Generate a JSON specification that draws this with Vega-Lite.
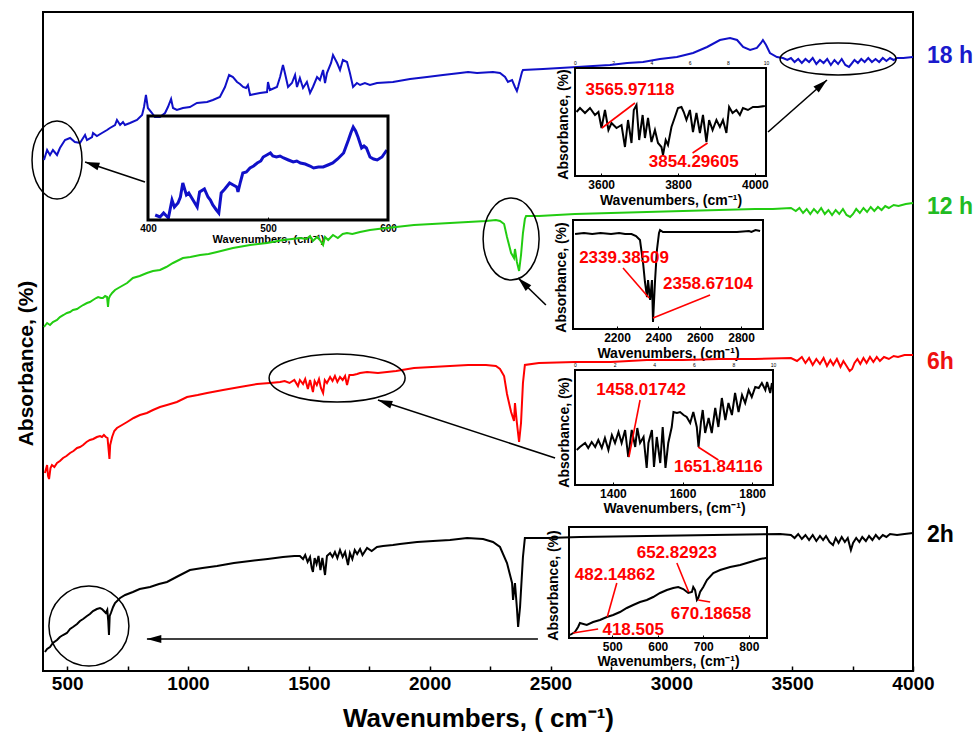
{
"$schema":"https://vega.github.io/schema/vega-lite/v6.json",
"width":870,"height":659,"autosize":"none",
"padding":{"left":43,"top":12,"right":63,"bottom":64},
"background":"white",
"config":{"view":{"stroke":"black","strokeWidth":2},"font":"Liberation Sans","axis":{"grid":false}},
"datasets":{
"s18":[{"wn":404,"a":511},{"wn":417,"a":521},{"wn":429,"a":516},{"wn":441,"a":521},{"wn":458,"a":516},{"wn":470,"a":523},{"wn":491,"a":531},{"wn":512,"a":533},{"wn":532,"a":529},{"wn":553,"a":528},{"wn":566,"a":533},{"wn":574,"a":536},{"wn":582,"a":531},{"wn":603,"a":534},{"wn":607,"a":538},{"wn":623,"a":535},{"wn":644,"a":538},{"wn":665,"a":541},{"wn":677,"a":543},{"wn":698,"a":546},{"wn":706,"a":551},{"wn":719,"a":546},{"wn":731,"a":549},{"wn":739,"a":546},{"wn":760,"a":548},{"wn":789,"a":551},{"wn":810,"a":556},{"wn":818,"a":564},{"wn":826,"a":576},{"wn":834,"a":563},{"wn":851,"a":558},{"wn":863,"a":554},{"wn":884,"a":554},{"wn":905,"a":558},{"wn":917,"a":564},{"wn":930,"a":572},{"wn":938,"a":563},{"wn":954,"a":561},{"wn":979,"a":563},{"wn":1008,"a":564},{"wn":1037,"a":568},{"wn":1079,"a":569},{"wn":1103,"a":571},{"wn":1132,"a":574},{"wn":1153,"a":584},{"wn":1170,"a":596},{"wn":1186,"a":594},{"wn":1203,"a":589},{"wn":1215,"a":587},{"wn":1228,"a":584},{"wn":1240,"a":583},{"wn":1248,"a":586},{"wn":1257,"a":576},{"wn":1277,"a":577},{"wn":1298,"a":578},{"wn":1327,"a":579},{"wn":1331,"a":589},{"wn":1339,"a":581},{"wn":1368,"a":584},{"wn":1381,"a":594},{"wn":1393,"a":606},{"wn":1401,"a":598},{"wn":1414,"a":584},{"wn":1430,"a":588},{"wn":1443,"a":596},{"wn":1451,"a":584},{"wn":1463,"a":593},{"wn":1476,"a":583},{"wn":1492,"a":589},{"wn":1505,"a":578},{"wn":1517,"a":584},{"wn":1534,"a":594},{"wn":1546,"a":591},{"wn":1559,"a":601},{"wn":1567,"a":588},{"wn":1575,"a":598},{"wn":1592,"a":608},{"wn":1600,"a":616},{"wn":1617,"a":608},{"wn":1629,"a":601},{"wn":1641,"a":611},{"wn":1658,"a":609},{"wn":1670,"a":598},{"wn":1683,"a":584},{"wn":1699,"a":588},{"wn":1712,"a":586},{"wn":1732,"a":588},{"wn":1753,"a":586},{"wn":1782,"a":588},{"wn":1848,"a":589},{"wn":1919,"a":592},{"wn":1989,"a":594},{"wn":2055,"a":596},{"wn":2126,"a":598},{"wn":2159,"a":599},{"wn":2196,"a":598},{"wn":2262,"a":599},{"wn":2291,"a":598},{"wn":2312,"a":594},{"wn":2324,"a":589},{"wn":2341,"a":591},{"wn":2353,"a":584},{"wn":2361,"a":580},{"wn":2366,"a":584},{"wn":2382,"a":599},{"wn":2386,"a":601},{"wn":2469,"a":602},{"wn":2539,"a":603},{"wn":2610,"a":604},{"wn":2676,"a":605},{"wn":2746,"a":606},{"wn":2817,"a":608},{"wn":2883,"a":609},{"wn":2953,"a":612},{"wn":3023,"a":614},{"wn":3090,"a":618},{"wn":3148,"a":624},{"wn":3201,"a":631},{"wn":3243,"a":633},{"wn":3272,"a":631},{"wn":3297,"a":624},{"wn":3326,"a":621},{"wn":3354,"a":623},{"wn":3371,"a":628},{"wn":3379,"a":631},{"wn":3392,"a":626},{"wn":3408,"a":618},{"wn":3437,"a":614},{"wn":3462,"a":613},{"wn":3480,"a":611},{"wn":3495,"a":613},{"wn":3510,"a":609},{"wn":3525,"a":612},{"wn":3540,"a":608},{"wn":3555,"a":612},{"wn":3570,"a":609},{"wn":3585,"a":613},{"wn":3600,"a":607},{"wn":3615,"a":611},{"wn":3630,"a":608},{"wn":3645,"a":612},{"wn":3660,"a":606},{"wn":3675,"a":611},{"wn":3690,"a":607},{"wn":3705,"a":612},{"wn":3720,"a":606},{"wn":3735,"a":604},{"wn":3745,"a":607},{"wn":3758,"a":611},{"wn":3772,"a":608},{"wn":3786,"a":612},{"wn":3800,"a":609},{"wn":3815,"a":613},{"wn":3830,"a":609},{"wn":3845,"a":612},{"wn":3860,"a":609},{"wn":3875,"a":613},{"wn":3890,"a":610},{"wn":3905,"a":613},{"wn":3920,"a":611},{"wn":3934,"a":613},{"wn":3960,"a":613},{"wn":4000,"a":614}],
"s12":[{"wn":404,"a":344},{"wn":417,"a":348},{"wn":429,"a":346},{"wn":441,"a":349},{"wn":458,"a":351},{"wn":470,"a":354},{"wn":485,"a":356},{"wn":499,"a":358},{"wn":512,"a":359},{"wn":524,"a":361},{"wn":541,"a":362},{"wn":553,"a":364},{"wn":566,"a":366},{"wn":582,"a":368},{"wn":594,"a":369},{"wn":607,"a":371},{"wn":620,"a":373},{"wn":628,"a":374},{"wn":640,"a":373},{"wn":648,"a":373},{"wn":657,"a":375},{"wn":665,"a":374},{"wn":669,"a":364},{"wn":672,"a":372},{"wn":677,"a":375},{"wn":686,"a":378},{"wn":698,"a":381},{"wn":719,"a":384},{"wn":748,"a":388},{"wn":772,"a":393},{"wn":800,"a":395},{"wn":830,"a":398},{"wn":855,"a":400},{"wn":884,"a":401},{"wn":910,"a":404},{"wn":938,"a":408},{"wn":979,"a":413},{"wn":1010,"a":414},{"wn":1050,"a":416},{"wn":1085,"a":417},{"wn":1120,"a":419},{"wn":1186,"a":423},{"wn":1257,"a":426},{"wn":1327,"a":428},{"wn":1393,"a":431},{"wn":1430,"a":432},{"wn":1463,"a":433},{"wn":1490,"a":432},{"wn":1505,"a":435},{"wn":1517,"a":430},{"wn":1534,"a":434},{"wn":1546,"a":431},{"wn":1559,"a":426},{"wn":1567,"a":434},{"wn":1580,"a":431},{"wn":1600,"a":436},{"wn":1620,"a":433},{"wn":1640,"a":437},{"wn":1658,"a":438},{"wn":1680,"a":437},{"wn":1712,"a":439},{"wn":1753,"a":441},{"wn":1786,"a":442},{"wn":1861,"a":444},{"wn":1935,"a":446},{"wn":2010,"a":447},{"wn":2084,"a":448},{"wn":2159,"a":449},{"wn":2233,"a":450},{"wn":2274,"a":451},{"wn":2291,"a":450},{"wn":2308,"a":447},{"wn":2320,"a":434},{"wn":2337,"a":418},{"wn":2349,"a":413},{"wn":2353,"a":422},{"wn":2361,"a":409},{"wn":2370,"a":400},{"wn":2378,"a":416},{"wn":2386,"a":438},{"wn":2394,"a":452},{"wn":2399,"a":455},{"wn":2452,"a":455},{"wn":2601,"a":457},{"wn":2750,"a":458},{"wn":2899,"a":459},{"wn":3048,"a":460},{"wn":3197,"a":461},{"wn":3346,"a":462},{"wn":3420,"a":462},{"wn":3495,"a":463},{"wn":3515,"a":460},{"wn":3530,"a":463},{"wn":3545,"a":458},{"wn":3560,"a":462},{"wn":3575,"a":457},{"wn":3590,"a":462},{"wn":3605,"a":458},{"wn":3620,"a":463},{"wn":3635,"a":457},{"wn":3650,"a":461},{"wn":3665,"a":456},{"wn":3680,"a":461},{"wn":3695,"a":457},{"wn":3710,"a":462},{"wn":3725,"a":456},{"wn":3740,"a":454},{"wn":3752,"a":457},{"wn":3765,"a":462},{"wn":3780,"a":458},{"wn":3795,"a":463},{"wn":3810,"a":459},{"wn":3825,"a":464},{"wn":3840,"a":460},{"wn":3855,"a":464},{"wn":3870,"a":461},{"wn":3885,"a":465},{"wn":3900,"a":463},{"wn":3920,"a":466},{"wn":3940,"a":465},{"wn":3970,"a":467},{"wn":4000,"a":468}],
"s6":[{"wn":408,"a":198},{"wn":417,"a":206},{"wn":421,"a":195},{"wn":425,"a":192},{"wn":431,"a":203},{"wn":437,"a":206},{"wn":447,"a":204},{"wn":458,"a":208},{"wn":470,"a":210},{"wn":483,"a":213},{"wn":497,"a":215},{"wn":512,"a":218},{"wn":526,"a":220},{"wn":541,"a":223},{"wn":553,"a":224},{"wn":566,"a":226},{"wn":580,"a":229},{"wn":594,"a":231},{"wn":608,"a":232},{"wn":623,"a":234},{"wn":636,"a":235},{"wn":644,"a":234},{"wn":652,"a":236},{"wn":660,"a":234},{"wn":667,"a":233},{"wn":672,"a":220},{"wn":675,"a":212},{"wn":678,"a":226},{"wn":686,"a":234},{"wn":695,"a":240},{"wn":706,"a":243},{"wn":727,"a":246},{"wn":748,"a":249},{"wn":775,"a":253},{"wn":801,"a":256},{"wn":830,"a":258},{"wn":855,"a":261},{"wn":884,"a":264},{"wn":913,"a":266},{"wn":954,"a":269},{"wn":996,"a":274},{"wn":1040,"a":276},{"wn":1079,"a":278},{"wn":1145,"a":281},{"wn":1215,"a":284},{"wn":1286,"a":287},{"wn":1339,"a":288},{"wn":1381,"a":289},{"wn":1400,"a":290},{"wn":1420,"a":288},{"wn":1440,"a":291},{"wn":1455,"a":285},{"wn":1463,"a":291},{"wn":1476,"a":287},{"wn":1485,"a":292},{"wn":1496,"a":282},{"wn":1505,"a":291},{"wn":1512,"a":284},{"wn":1517,"a":279},{"wn":1524,"a":290},{"wn":1533,"a":286},{"wn":1542,"a":292},{"wn":1550,"a":283},{"wn":1559,"a":278},{"wn":1566,"a":291},{"wn":1575,"a":288},{"wn":1588,"a":294},{"wn":1598,"a":290},{"wn":1608,"a":295},{"wn":1618,"a":289},{"wn":1629,"a":294},{"wn":1640,"a":291},{"wn":1650,"a":295},{"wn":1658,"a":286},{"wn":1668,"a":296},{"wn":1683,"a":296},{"wn":1700,"a":297},{"wn":1712,"a":298},{"wn":1741,"a":299},{"wn":1786,"a":298},{"wn":1861,"a":300},{"wn":1935,"a":303},{"wn":2010,"a":304},{"wn":2084,"a":305},{"wn":2159,"a":306},{"wn":2233,"a":306},{"wn":2274,"a":305},{"wn":2291,"a":302},{"wn":2308,"a":295},{"wn":2320,"a":277},{"wn":2337,"a":259},{"wn":2349,"a":250},{"wn":2353,"a":268},{"wn":2361,"a":248},{"wn":2370,"a":229},{"wn":2378,"a":248},{"wn":2386,"a":288},{"wn":2394,"a":306},{"wn":2452,"a":308},{"wn":2601,"a":309},{"wn":2750,"a":309},{"wn":2899,"a":311},{"wn":3048,"a":311},{"wn":3197,"a":312},{"wn":3346,"a":312},{"wn":3495,"a":313},{"wn":3520,"a":310},{"wn":3540,"a":314},{"wn":3555,"a":308},{"wn":3570,"a":313},{"wn":3585,"a":306},{"wn":3600,"a":312},{"wn":3615,"a":307},{"wn":3630,"a":313},{"wn":3644,"a":305},{"wn":3658,"a":311},{"wn":3670,"a":306},{"wn":3685,"a":312},{"wn":3700,"a":304},{"wn":3712,"a":310},{"wn":3725,"a":305},{"wn":3738,"a":300},{"wn":3748,"a":302},{"wn":3758,"a":308},{"wn":3770,"a":312},{"wn":3782,"a":307},{"wn":3795,"a":313},{"wn":3808,"a":308},{"wn":3822,"a":314},{"wn":3836,"a":309},{"wn":3850,"a":314},{"wn":3863,"a":310},{"wn":3880,"a":314},{"wn":3900,"a":312},{"wn":3920,"a":315},{"wn":3938,"a":314},{"wn":3965,"a":316},{"wn":4000,"a":316}],
"s2":[{"wn":408,"a":19},{"wn":417,"a":22},{"wn":429,"a":24},{"wn":441,"a":28},{"wn":458,"a":31},{"wn":470,"a":34},{"wn":483,"a":36},{"wn":499,"a":38},{"wn":512,"a":42},{"wn":524,"a":44},{"wn":541,"a":47},{"wn":553,"a":50},{"wn":566,"a":52},{"wn":582,"a":55},{"wn":594,"a":57},{"wn":607,"a":60},{"wn":623,"a":62},{"wn":636,"a":63},{"wn":644,"a":62},{"wn":652,"a":60},{"wn":660,"a":58},{"wn":666,"a":61},{"wn":670,"a":50},{"wn":673,"a":36},{"wn":676,"a":55},{"wn":681,"a":58},{"wn":690,"a":64},{"wn":698,"a":68},{"wn":719,"a":73},{"wn":740,"a":76},{"wn":772,"a":79},{"wn":800,"a":82},{"wn":843,"a":84},{"wn":880,"a":87},{"wn":913,"a":89},{"wn":960,"a":95},{"wn":1008,"a":101},{"wn":1060,"a":103},{"wn":1120,"a":105},{"wn":1190,"a":108},{"wn":1257,"a":110},{"wn":1330,"a":112},{"wn":1393,"a":114},{"wn":1440,"a":115},{"wn":1463,"a":115},{"wn":1476,"a":112},{"wn":1485,"a":116},{"wn":1495,"a":109},{"wn":1505,"a":114},{"wn":1512,"a":103},{"wn":1517,"a":99},{"wn":1524,"a":113},{"wn":1532,"a":107},{"wn":1540,"a":115},{"wn":1548,"a":101},{"wn":1556,"a":113},{"wn":1567,"a":96},{"wn":1575,"a":115},{"wn":1588,"a":118},{"wn":1598,"a":114},{"wn":1608,"a":119},{"wn":1618,"a":113},{"wn":1629,"a":121},{"wn":1640,"a":114},{"wn":1650,"a":119},{"wn":1662,"a":106},{"wn":1670,"a":118},{"wn":1680,"a":112},{"wn":1690,"a":121},{"wn":1700,"a":117},{"wn":1712,"a":122},{"wn":1722,"a":116},{"wn":1741,"a":123},{"wn":1760,"a":120},{"wn":1782,"a":124},{"wn":1807,"a":125},{"wn":1848,"a":126},{"wn":1877,"a":127},{"wn":1948,"a":129},{"wn":2014,"a":130},{"wn":2084,"a":131},{"wn":2155,"a":133},{"wn":2221,"a":132},{"wn":2262,"a":129},{"wn":2291,"a":124},{"wn":2320,"a":108},{"wn":2341,"a":88},{"wn":2345,"a":71},{"wn":2353,"a":88},{"wn":2361,"a":63},{"wn":2366,"a":44},{"wn":2374,"a":64},{"wn":2386,"a":114},{"wn":2394,"a":133},{"wn":2486,"a":133},{"wn":2622,"a":134},{"wn":2899,"a":135},{"wn":3172,"a":136},{"wn":3450,"a":137},{"wn":3495,"a":136},{"wn":3510,"a":133},{"wn":3525,"a":137},{"wn":3540,"a":132},{"wn":3555,"a":136},{"wn":3570,"a":131},{"wn":3585,"a":136},{"wn":3600,"a":130},{"wn":3615,"a":135},{"wn":3628,"a":131},{"wn":3640,"a":135},{"wn":3655,"a":129},{"wn":3669,"a":126},{"wn":3680,"a":133},{"wn":3692,"a":128},{"wn":3705,"a":134},{"wn":3718,"a":129},{"wn":3730,"a":133},{"wn":3743,"a":121},{"wn":3752,"a":128},{"wn":3765,"a":133},{"wn":3778,"a":129},{"wn":3790,"a":134},{"wn":3805,"a":130},{"wn":3818,"a":135},{"wn":3832,"a":131},{"wn":3846,"a":136},{"wn":3860,"a":132},{"wn":3875,"a":136},{"wn":3890,"a":134},{"wn":3905,"a":137},{"wn":3934,"a":136},{"wn":3965,"a":137},{"wn":4000,"a":138}],
"in1":[{"wn":406,"a":5},{"wn":410,"a":3},{"wn":413,"a":7},{"wn":417,"a":2},{"wn":420,"a":20},{"wn":422,"a":13},{"wn":425,"a":17},{"wn":427,"a":23},{"wn":429,"a":37},{"wn":432,"a":25},{"wn":434,"a":27},{"wn":436,"a":23},{"wn":438,"a":19},{"wn":441,"a":13},{"wn":443,"a":28},{"wn":447,"a":31},{"wn":450,"a":23},{"wn":452,"a":20},{"wn":454,"a":15},{"wn":457,"a":10},{"wn":459,"a":7},{"wn":461,"a":27},{"wn":464,"a":31},{"wn":468,"a":37},{"wn":471,"a":35},{"wn":474,"a":33},{"wn":475,"a":28},{"wn":477,"a":38},{"wn":479,"a":47},{"wn":482,"a":48},{"wn":485,"a":52},{"wn":488,"a":54},{"wn":491,"a":57},{"wn":494,"a":59},{"wn":496,"a":63},{"wn":499,"a":65},{"wn":502,"a":67},{"wn":504,"a":64},{"wn":507,"a":63},{"wn":510,"a":64},{"wn":513,"a":62},{"wn":517,"a":60},{"wn":521,"a":58},{"wn":524,"a":59},{"wn":527,"a":57},{"wn":531,"a":56},{"wn":535,"a":54},{"wn":538,"a":52},{"wn":542,"a":53},{"wn":546,"a":53},{"wn":550,"a":55},{"wn":554,"a":57},{"wn":558,"a":61},{"wn":563,"a":67},{"wn":567,"a":80},{"wn":569,"a":87},{"wn":571,"a":93},{"wn":573,"a":89},{"wn":575,"a":83},{"wn":578,"a":72},{"wn":580,"a":74},{"wn":582,"a":72},{"wn":585,"a":63},{"wn":588,"a":61},{"wn":591,"a":60},{"wn":595,"a":63},{"wn":599,"a":70}],
"in2":[{"wn":3536,"a":64},{"wn":3545,"a":68},{"wn":3558,"a":63},{"wn":3571,"a":68},{"wn":3584,"a":61},{"wn":3593,"a":64},{"wn":3601,"a":48},{"wn":3610,"a":66},{"wn":3619,"a":46},{"wn":3627,"a":53},{"wn":3640,"a":48},{"wn":3653,"a":51},{"wn":3662,"a":29},{"wn":3670,"a":56},{"wn":3679,"a":33},{"wn":3685,"a":66},{"wn":3692,"a":71},{"wn":3699,"a":36},{"wn":3708,"a":61},{"wn":3714,"a":38},{"wn":3722,"a":58},{"wn":3731,"a":34},{"wn":3740,"a":46},{"wn":3748,"a":33},{"wn":3757,"a":29},{"wn":3761,"a":21},{"wn":3768,"a":36},{"wn":3774,"a":31},{"wn":3783,"a":49},{"wn":3792,"a":59},{"wn":3800,"a":68},{"wn":3809,"a":69},{"wn":3815,"a":64},{"wn":3822,"a":56},{"wn":3831,"a":66},{"wn":3839,"a":44},{"wn":3848,"a":63},{"wn":3857,"a":43},{"wn":3865,"a":61},{"wn":3874,"a":34},{"wn":3881,"a":56},{"wn":3890,"a":46},{"wn":3900,"a":56},{"wn":3909,"a":49},{"wn":3917,"a":56},{"wn":3926,"a":43},{"wn":3933,"a":69},{"wn":3942,"a":63},{"wn":3952,"a":66},{"wn":3961,"a":61},{"wn":3969,"a":68},{"wn":3982,"a":66},{"wn":3995,"a":69},{"wn":4008,"a":69},{"wn":4026,"a":70}],
"in3":[{"wn":1997,"a":95},{"wn":2040,"a":96},{"wn":2080,"a":95},{"wn":2120,"a":96},{"wn":2171,"a":95},{"wn":2210,"a":96},{"wn":2239,"a":95},{"wn":2270,"a":95},{"wn":2292,"a":93},{"wn":2311,"a":89},{"wn":2326,"a":66},{"wn":2335,"a":47},{"wn":2345,"a":32},{"wn":2350,"a":49},{"wn":2360,"a":29},{"wn":2369,"a":49},{"wn":2374,"a":7},{"wn":2384,"a":49},{"wn":2393,"a":79},{"wn":2403,"a":96},{"wn":2408,"a":99},{"wn":2422,"a":97},{"wn":2500,"a":97},{"wn":2601,"a":97},{"wn":2693,"a":97},{"wn":2780,"a":97},{"wn":2838,"a":98},{"wn":2850,"a":97},{"wn":2870,"a":99},{"wn":2892,"a":98}],
"in4":[{"wn":1296,"a":35},{"wn":1305,"a":38},{"wn":1320,"a":42},{"wn":1329,"a":37},{"wn":1339,"a":43},{"wn":1349,"a":38},{"wn":1358,"a":45},{"wn":1368,"a":37},{"wn":1377,"a":47},{"wn":1387,"a":35},{"wn":1397,"a":50},{"wn":1406,"a":42},{"wn":1416,"a":53},{"wn":1425,"a":42},{"wn":1435,"a":55},{"wn":1444,"a":28},{"wn":1454,"a":55},{"wn":1464,"a":38},{"wn":1470,"a":57},{"wn":1478,"a":42},{"wn":1488,"a":48},{"wn":1497,"a":17},{"wn":1502,"a":42},{"wn":1512,"a":55},{"wn":1518,"a":18},{"wn":1526,"a":48},{"wn":1536,"a":22},{"wn":1543,"a":58},{"wn":1551,"a":17},{"wn":1559,"a":42},{"wn":1569,"a":58},{"wn":1574,"a":73},{"wn":1584,"a":72},{"wn":1593,"a":73},{"wn":1603,"a":70},{"wn":1612,"a":68},{"wn":1622,"a":62},{"wn":1631,"a":73},{"wn":1641,"a":58},{"wn":1646,"a":38},{"wn":1653,"a":63},{"wn":1658,"a":75},{"wn":1665,"a":52},{"wn":1675,"a":67},{"wn":1684,"a":52},{"wn":1694,"a":77},{"wn":1703,"a":58},{"wn":1713,"a":87},{"wn":1723,"a":65},{"wn":1732,"a":82},{"wn":1742,"a":70},{"wn":1751,"a":92},{"wn":1761,"a":73},{"wn":1771,"a":90},{"wn":1780,"a":82},{"wn":1790,"a":95},{"wn":1799,"a":88},{"wn":1809,"a":98},{"wn":1819,"a":97},{"wn":1828,"a":102},{"wn":1838,"a":95},{"wn":1843,"a":103},{"wn":1852,"a":92},{"wn":1857,"a":102}],
"in5":[{"wn":407,"a":3},{"wn":418,"a":6},{"wn":425,"a":11},{"wn":429,"a":15},{"wn":444,"a":13},{"wn":458,"a":16},{"wn":473,"a":18},{"wn":488,"a":21},{"wn":502,"a":23},{"wn":517,"a":26},{"wn":532,"a":30},{"wn":546,"a":33},{"wn":561,"a":36},{"wn":576,"a":38},{"wn":590,"a":41},{"wn":605,"a":45},{"wn":620,"a":48},{"wn":634,"a":50},{"wn":645,"a":51},{"wn":656,"a":49},{"wn":667,"a":45},{"wn":675,"a":46},{"wn":678,"a":51},{"wn":682,"a":48},{"wn":686,"a":38},{"wn":689,"a":40},{"wn":693,"a":46},{"wn":700,"a":51},{"wn":708,"a":58},{"wn":722,"a":65},{"wn":737,"a":68},{"wn":759,"a":71},{"wn":781,"a":73},{"wn":803,"a":76},{"wn":825,"a":79},{"wn":838,"a":80}],
"notes":[{"g":2,"t":"3565.97118","tx":3675,"ty":86,"x1":3602,"y1":48,"x2":3688,"y2":73},{"g":2,"t":"3854.29605","tx":3841,"ty":14,"x1":3838,"y1":23,"x2":3877,"y2":33},{"g":3,"t":"2339.38509","tx":2234,"ty":71,"x1":2229,"y1":61,"x2":2355,"y2":31},{"g":3,"t":"2358.67104","tx":2640,"ty":45,"x1":2650,"y1":34,"x2":2374,"y2":11},{"g":4,"t":"1458.01742","tx":1481,"ty":95,"x1":1478,"y1":85,"x2":1446,"y2":28},{"g":4,"t":"1651.84116","tx":1703,"ty":18,"x1":1645,"y1":38,"x2":1703,"y2":25},{"g":5,"t":"652.82923","tx":642,"ty":85,"x1":642,"y1":75,"x2":668,"y2":46},{"g":5,"t":"482.14862","tx":506,"ty":63,"x1":510,"y1":55,"x2":489,"y2":21},{"g":5,"t":"670.18658","tx":717,"ty":24,"x1":689,"y1":38,"x2":715,"y2":36},{"g":5,"t":"418.505","tx":546,"ty":8,"x1":414,"y1":5,"x2":469,"y2":9}],
"arrows":[{"x1":822,"y1":489,"x2":574,"y2":509},{"x1":3400,"y1":539,"x2":3644,"y2":591},{"x1":2481,"y1":366,"x2":2366,"y2":393},{"x1":2519,"y1":213,"x2":1786,"y2":271},{"x1":2448,"y1":32,"x2":830,"y2":32}],
"tags":[{"t":"18 h","a":615},{"t":"12 h","a":464},{"t":"6h","a":309},{"t":"2h","a":136}]
},
"layer":[
 {"data":{"name":"s2"},"mark":{"type":"line","color":"black","strokeWidth":2},
  "encoding":{
   "x":{"field":"wn","type":"quantitative","scale":{"domain":[400,4000],"nice":false,"zero":false},
     "axis":{"orient":"bottom","values":[500,750,1000,1250,1500,1750,2000,2250,2500,2750,3000,3250,3500,3750,4000],"format":"d","labelExpr":"datum.value % 500 === 0 ? datum.label : ''","labelFontSize":19,"labelFontWeight":"bold","labelColor":"black","labelFlush":false,"labelPadding":8,"tickSize":-5,"tickColor":"black","tickWidth":1.5,"domain":false,"title":"Wavenumbers, ( cm⁻¹)","titleFontSize":26,"titleFontWeight":"bold","titleColor":"black","titleY":47,"titleBaseline":"middle"}},
   "y":{"field":"a","type":"quantitative","scale":{"domain":[0,659],"nice":false,"zero":false},
     "axis":{"orient":"left","labels":false,"ticks":false,"domain":false,"title":"Absorbance, (%)","titleFontSize":21,"titleFontWeight":"bold","titleColor":"black","titleX":-17,"titleY":351,"titleAngle":-90,"titleBaseline":"middle","titleAlign":"center"}}}},
 {"data":{"name":"s6"},"mark":{"type":"line","color":"#ff0000","strokeWidth":2},"encoding":{"x":{"field":"wn","type":"quantitative","scale":{"domain":[400,4000],"nice":false,"zero":false},"axis":null},"y":{"field":"a","type":"quantitative","scale":{"domain":[0,659],"nice":false,"zero":false},"axis":null}}},
 {"data":{"name":"s12"},"mark":{"type":"line","color":"#22cc11","strokeWidth":2},"encoding":{"x":{"field":"wn","type":"quantitative","scale":{"domain":[400,4000],"nice":false,"zero":false},"axis":null},"y":{"field":"a","type":"quantitative","scale":{"domain":[0,659],"nice":false,"zero":false},"axis":null}}},
 {"data":{"name":"s18"},"mark":{"type":"line","color":"#1010c8","strokeWidth":2},"encoding":{"x":{"field":"wn","type":"quantitative","scale":{"domain":[400,4000],"nice":false,"zero":false},"axis":null},"y":{"field":"a","type":"quantitative","scale":{"domain":[0,659],"nice":false,"zero":false},"axis":null}}},
 {"data":{"values":[{}]},"mark":{"type":"point","shape":"M-0.641,0A0.641,1 0 1,0 0.641,0A0.641,1 0 1,0 -0.641,0","size":6084,"filled":false,"stroke":"black","strokeWidth":1.5,"opacity":1},"encoding":{"x":{"datum":458,"type":"quantitative","scale":{"domain":[400,4000],"nice":false,"zero":false},"axis":null},"y":{"datum":511,"type":"quantitative","scale":{"domain":[0,659],"nice":false,"zero":false},"axis":null}}},
 {"data":{"values":[{}]},"mark":{"type":"point","shape":"M-1,0A1,0.276 0 1,0 1,0A1,0.276 0 1,0 -1,0","size":13456,"filled":false,"stroke":"black","strokeWidth":1.5,"opacity":1},"encoding":{"x":{"datum":3690,"type":"quantitative","scale":{"domain":[400,4000],"nice":false,"zero":false},"axis":null},"y":{"datum":612,"type":"quantitative","scale":{"domain":[0,659],"nice":false,"zero":false},"axis":null}}},
 {"data":{"values":[{}]},"mark":{"type":"point","shape":"M-0.683,0A0.683,1 0 1,0 0.683,0A0.683,1 0 1,0 -0.683,0","size":6724,"filled":false,"stroke":"black","strokeWidth":1.5,"opacity":1},"encoding":{"x":{"datum":2337,"type":"quantitative","scale":{"domain":[400,4000],"nice":false,"zero":false},"axis":null},"y":{"datum":432,"type":"quantitative","scale":{"domain":[0,659],"nice":false,"zero":false},"axis":null}}},
 {"data":{"values":[{}]},"mark":{"type":"point","shape":"M-1,0A1,0.353 0 1,0 1,0A1,0.353 0 1,0 -1,0","size":18496,"filled":false,"stroke":"black","strokeWidth":1.5,"opacity":1},"encoding":{"x":{"datum":1617,"type":"quantitative","scale":{"domain":[400,4000],"nice":false,"zero":false},"axis":null},"y":{"datum":293,"type":"quantitative","scale":{"domain":[0,659],"nice":false,"zero":false},"axis":null}}},
 {"data":{"values":[{}]},"mark":{"type":"point","shape":"M-1,0A1,1 0 1,0 1,0A1,1 0 1,0 -1,0","size":6400,"filled":false,"stroke":"black","strokeWidth":1.5,"opacity":1},"encoding":{"x":{"datum":590,"type":"quantitative","scale":{"domain":[400,4000],"nice":false,"zero":false},"axis":null},"y":{"datum":45,"type":"quantitative","scale":{"domain":[0,659],"nice":false,"zero":false},"axis":null}}},
 {"data":{"name":"arrows"},"mark":{"type":"rule","color":"black","strokeWidth":1.6},"encoding":{"x":{"field":"x1","type":"quantitative","scale":{"domain":[400,4000],"nice":false,"zero":false},"axis":null},"y":{"field":"y1","type":"quantitative","scale":{"domain":[0,659],"nice":false,"zero":false},"axis":null},"x2":{"field":"x2"},"y2":{"field":"y2"}}},
 {"data":{"values":[{}]},"mark":{"type":"point","shape":"M0,0L-0.5,1.8L0.5,1.8Z","size":256,"filled":true,"color":"black","opacity":1,"angle":288},"encoding":{"x":{"datum":574,"type":"quantitative","scale":{"domain":[400,4000],"nice":false,"zero":false},"axis":null},"y":{"datum":509,"type":"quantitative","scale":{"domain":[0,659],"nice":false,"zero":false},"axis":null}}},
 {"data":{"values":[{}]},"mark":{"type":"point","shape":"M0,0L-0.5,1.8L0.5,1.8Z","size":256,"filled":true,"color":"black","opacity":1,"angle":49},"encoding":{"x":{"datum":3644,"type":"quantitative","scale":{"domain":[400,4000],"nice":false,"zero":false},"axis":null},"y":{"datum":591,"type":"quantitative","scale":{"domain":[0,659],"nice":false,"zero":false},"axis":null}}},
 {"data":{"values":[{}]},"mark":{"type":"point","shape":"M0,0L-0.5,1.8L0.5,1.8Z","size":256,"filled":true,"color":"black","opacity":1,"angle":314},"encoding":{"x":{"datum":2366,"type":"quantitative","scale":{"domain":[400,4000],"nice":false,"zero":false},"axis":null},"y":{"datum":393,"type":"quantitative","scale":{"domain":[0,659],"nice":false,"zero":false},"axis":null}}},
 {"data":{"values":[{}]},"mark":{"type":"point","shape":"M0,0L-0.5,1.8L0.5,1.8Z","size":256,"filled":true,"color":"black","opacity":1,"angle":289},"encoding":{"x":{"datum":1786,"type":"quantitative","scale":{"domain":[400,4000],"nice":false,"zero":false},"axis":null},"y":{"datum":271,"type":"quantitative","scale":{"domain":[0,659],"nice":false,"zero":false},"axis":null}}},
 {"data":{"values":[{}]},"mark":{"type":"point","shape":"M0,0L-0.5,1.8L0.5,1.8Z","size":256,"filled":true,"color":"black","opacity":1,"angle":270},"encoding":{"x":{"datum":830,"type":"quantitative","scale":{"domain":[400,4000],"nice":false,"zero":false},"axis":null},"y":{"datum":32,"type":"quantitative","scale":{"domain":[0,659],"nice":false,"zero":false},"axis":null}}},
 {"data":{"name":"tags"},"mark":{"type":"text","align":"left","baseline":"middle","dx":14,"fontSize":23,"fontWeight":"bold"},"encoding":{"x":{"datum":4000,"type":"quantitative","scale":{"domain":[400,4000],"nice":false,"zero":false},"axis":null},"y":{"field":"a","type":"quantitative","scale":{"domain":[0,659],"nice":false,"zero":false},"axis":null},"text":{"field":"t"},"color":{"field":"t","type":"nominal","scale":{"domain":["18 h","12 h","6h","2h"],"range":["#1a1acc","#22bb22","#ee1111","#000000"]},"legend":null}}},

 {"data":{"name":"in1"},"mark":{"type":"line","color":"#1010c8","strokeWidth":3},
  "encoding":{
   "x":{"field":"wn","type":"quantitative","scale":{"domain":[400,600],"range":[105,345],"nice":false,"zero":false},
     "axis":{"orient":"bottom","offset":-451,"values":[400,500,600],"format":"d","labelFontSize":10,"labelFontWeight":"bold","labelColor":"black","labelFlush":false,"labelPadding":6,"tickSize":-3,"tickColor":"black","domain":false,"title":"Wavenumbers, (cm⁻¹)","titleFontSize":11,"titleFontWeight":"bold","titleColor":"black","titlePadding":0}},
   "y":{"field":"a","type":"quantitative","scale":{"domain":[0,104],"range":[208,104],"nice":false,"zero":false},"axis":null}}},
 {"data":{"values":[{}]},"mark":{"type":"rect","filled":false,"stroke":"black","strokeWidth":3},"encoding":{"x":{"datum":400,"type":"quantitative","scale":{"domain":[400,600],"range":[105,345],"nice":false,"zero":false},"axis":null},"x2":{"datum":600},"y":{"datum":0,"type":"quantitative","scale":{"domain":[0,104],"range":[208,104],"nice":false,"zero":false},"axis":null},"y2":{"datum":104}}},

 {"data":{"name":"in2"},"mark":{"type":"line","color":"black","strokeWidth":2},
  "encoding":{
   "x":{"field":"wn","type":"quantitative","scale":{"domain":[3532,4029],"range":[532,723],"nice":false,"zero":false},
     "axis":{"orient":"bottom","offset":-495,"values":[3600,3800,4000],"format":"d","labelFontSize":12,"labelFontWeight":"bold","labelColor":"black","labelFlush":false,"labelPadding":6,"tickSize":-3,"tickColor":"black","domain":false,"title":"Wavenumbers,  (cm⁻¹)","titleFontSize":14,"titleFontWeight":"bold","titleColor":"black","titlePadding":3}},
   "y":{"field":"a","type":"quantitative","scale":{"domain":[0,108],"range":[164,56],"nice":false,"zero":false},
     "axis":{"orient":"left","labels":false,"ticks":false,"domain":false,"title":"Absorbance, (%)","titleFontSize":14,"titleFontWeight":"bold","titleColor":"black","titleX":520,"titleY":112,"titleAngle":-90,"titleBaseline":"middle","titleAlign":"center"}}}},
 {"data":{"values":[{}]},"mark":{"type":"rect","filled":false,"stroke":"black","strokeWidth":2},"encoding":{"x":{"datum":0,"type":"quantitative","scale":{"domain":[0,10],"range":[532,723],"nice":false,"zero":false},"axis":{"orient":"top","offset":-56,"values":[0,2,4,6,8,10],"labelFontSize":5,"labelColor":"black","labelFlush":false,"labelPadding":3,"ticks":false,"domain":false,"title":null}},"x2":{"datum":10},"y":{"datum":0,"type":"quantitative","scale":{"domain":[0,108],"range":[164,56],"nice":false,"zero":false},"axis":null},"y2":{"datum":108}}},
 {"data":{"name":"notes"},"transform":[{"filter":"datum.g === 2"}],"mark":{"type":"rule","color":"red","strokeWidth":1.6},"encoding":{"x":{"field":"x1","type":"quantitative","scale":{"domain":[3532,4029],"range":[532,723],"nice":false,"zero":false},"axis":null},"y":{"field":"y1","type":"quantitative","scale":{"domain":[0,108],"range":[164,56],"nice":false,"zero":false},"axis":null},"x2":{"field":"x2"},"y2":{"field":"y2"}}},
 {"data":{"name":"notes"},"transform":[{"filter":"datum.g === 2"}],"mark":{"type":"text","color":"red","fontSize":17,"fontWeight":"bold","align":"center","baseline":"middle"},"encoding":{"x":{"field":"tx","type":"quantitative","scale":{"domain":[3532,4029],"range":[532,723],"nice":false,"zero":false},"axis":null},"y":{"field":"ty","type":"quantitative","scale":{"domain":[0,108],"range":[164,56],"nice":false,"zero":false},"axis":null},"text":{"field":"t"}}},

 {"data":{"name":"in3"},"mark":{"type":"line","color":"black","strokeWidth":2},
  "encoding":{
   "x":{"field":"wn","type":"quantitative","scale":{"domain":[1987,2906],"range":[530,720],"nice":false,"zero":false},
     "axis":{"orient":"bottom","offset":-342,"values":[2200,2400,2600,2800],"format":"d","labelFontSize":12,"labelFontWeight":"bold","labelColor":"black","labelFlush":false,"labelPadding":6,"tickSize":-3,"tickColor":"black","domain":false,"title":"Wavenumbers, (cm⁻¹)","titleFontSize":14,"titleFontWeight":"bold","titleColor":"black","titlePadding":3}},
   "y":{"field":"a","type":"quantitative","scale":{"domain":[0,109],"range":[317,208],"nice":false,"zero":false},
     "axis":{"orient":"left","labels":false,"ticks":false,"domain":false,"title":"Absorbance, (%)","titleFontSize":14,"titleFontWeight":"bold","titleColor":"black","titleX":518,"titleY":265,"titleAngle":-90,"titleBaseline":"middle","titleAlign":"center"}}}},
 {"data":{"values":[{}]},"mark":{"type":"rect","filled":false,"stroke":"black","strokeWidth":2},"encoding":{"x":{"datum":1987,"type":"quantitative","scale":{"domain":[1987,2906],"range":[530,720],"nice":false,"zero":false},"axis":null},"x2":{"datum":2906},"y":{"datum":0,"type":"quantitative","scale":{"domain":[0,109],"range":[317,208],"nice":false,"zero":false},"axis":null},"y2":{"datum":109}}},
 {"data":{"name":"notes"},"transform":[{"filter":"datum.g === 3"}],"mark":{"type":"rule","color":"red","strokeWidth":1.6},"encoding":{"x":{"field":"x1","type":"quantitative","scale":{"domain":[1987,2906],"range":[530,720],"nice":false,"zero":false},"axis":null},"y":{"field":"y1","type":"quantitative","scale":{"domain":[0,109],"range":[317,208],"nice":false,"zero":false},"axis":null},"x2":{"field":"x2"},"y2":{"field":"y2"}}},
 {"data":{"name":"notes"},"transform":[{"filter":"datum.g === 3"}],"mark":{"type":"text","color":"red","fontSize":17,"fontWeight":"bold","align":"center","baseline":"middle"},"encoding":{"x":{"field":"tx","type":"quantitative","scale":{"domain":[1987,2906],"range":[530,720],"nice":false,"zero":false},"axis":null},"y":{"field":"ty","type":"quantitative","scale":{"domain":[0,109],"range":[317,208],"nice":false,"zero":false},"axis":null},"text":{"field":"t"}}},

 {"data":{"name":"in4"},"mark":{"type":"line","color":"black","strokeWidth":2},
  "encoding":{
   "x":{"field":"wn","type":"quantitative","scale":{"domain":[1291,1860],"range":[532,730],"nice":false,"zero":false},
     "axis":{"orient":"bottom","offset":-186,"values":[1400,1600,1800],"format":"d","labelFontSize":12,"labelFontWeight":"bold","labelColor":"black","labelFlush":false,"labelPadding":6,"tickSize":-3,"tickColor":"black","domain":false,"title":"Wavenumbers, (cm⁻¹)","titleFontSize":14,"titleFontWeight":"bold","titleColor":"black","titlePadding":2}},
   "y":{"field":"a","type":"quantitative","scale":{"domain":[0,115],"range":[473,358],"nice":false,"zero":false},
     "axis":{"orient":"left","labels":false,"ticks":false,"domain":false,"title":"Absorbance, (%)","titleFontSize":14,"titleFontWeight":"bold","titleColor":"black","titleX":521,"titleY":420,"titleAngle":-90,"titleBaseline":"middle","titleAlign":"center"}}}},
 {"data":{"values":[{}]},"mark":{"type":"rect","filled":false,"stroke":"black","strokeWidth":2},"encoding":{"x":{"datum":0,"type":"quantitative","scale":{"domain":[0,10],"range":[532,730],"nice":false,"zero":false},"axis":{"orient":"top","offset":-358,"values":[0,2,4,6,8,10],"labelFontSize":5,"labelColor":"black","labelFlush":false,"labelPadding":3,"ticks":false,"domain":false,"title":null}},"x2":{"datum":10},"y":{"datum":0,"type":"quantitative","scale":{"domain":[0,115],"range":[473,358],"nice":false,"zero":false},"axis":null},"y2":{"datum":115}}},
 {"data":{"name":"notes"},"transform":[{"filter":"datum.g === 4"}],"mark":{"type":"rule","color":"red","strokeWidth":1.6},"encoding":{"x":{"field":"x1","type":"quantitative","scale":{"domain":[1291,1860],"range":[532,730],"nice":false,"zero":false},"axis":null},"y":{"field":"y1","type":"quantitative","scale":{"domain":[0,115],"range":[473,358],"nice":false,"zero":false},"axis":null},"x2":{"field":"x2"},"y2":{"field":"y2"}}},
 {"data":{"name":"notes"},"transform":[{"filter":"datum.g === 4"}],"mark":{"type":"text","color":"red","fontSize":17,"fontWeight":"bold","align":"center","baseline":"middle"},"encoding":{"x":{"field":"tx","type":"quantitative","scale":{"domain":[1291,1860],"range":[532,730],"nice":false,"zero":false},"axis":null},"y":{"field":"ty","type":"quantitative","scale":{"domain":[0,115],"range":[473,358],"nice":false,"zero":false},"axis":null},"text":{"field":"t"}}},

 {"data":{"name":"in5"},"mark":{"type":"line","color":"black","strokeWidth":2},
  "encoding":{
   "x":{"field":"wn","type":"quantitative","scale":{"domain":[405,840],"range":[526,724],"nice":false,"zero":false},
     "axis":{"orient":"bottom","offset":-33,"values":[500,600,700,800],"format":"d","labelFontSize":12,"labelFontWeight":"bold","labelColor":"black","labelFlush":false,"labelPadding":6,"tickSize":-3,"tickColor":"black","domain":false,"title":"Wavenumbers, (cm⁻¹)","titleFontSize":14,"titleFontWeight":"bold","titleColor":"black","titlePadding":2}},
   "y":{"field":"a","type":"quantitative","scale":{"domain":[0,111],"range":[626,515],"nice":false,"zero":false},
     "axis":{"orient":"left","labels":false,"ticks":false,"domain":false,"title":"Absorbance, (%)","titleFontSize":14,"titleFontWeight":"bold","titleColor":"black","titleX":510,"titleY":573,"titleAngle":-90,"titleBaseline":"middle","titleAlign":"center"}}}},
 {"data":{"values":[{}]},"mark":{"type":"rect","filled":false,"stroke":"black","strokeWidth":2},"encoding":{"x":{"datum":405,"type":"quantitative","scale":{"domain":[405,840],"range":[526,724],"nice":false,"zero":false},"axis":null},"x2":{"datum":840},"y":{"datum":0,"type":"quantitative","scale":{"domain":[0,111],"range":[626,515],"nice":false,"zero":false},"axis":null},"y2":{"datum":111}}},
 {"data":{"name":"notes"},"transform":[{"filter":"datum.g === 5"}],"mark":{"type":"rule","color":"red","strokeWidth":1.6},"encoding":{"x":{"field":"x1","type":"quantitative","scale":{"domain":[405,840],"range":[526,724],"nice":false,"zero":false},"axis":null},"y":{"field":"y1","type":"quantitative","scale":{"domain":[0,111],"range":[626,515],"nice":false,"zero":false},"axis":null},"x2":{"field":"x2"},"y2":{"field":"y2"}}},
 {"data":{"name":"notes"},"transform":[{"filter":"datum.g === 5"}],"mark":{"type":"text","color":"red","fontSize":17,"fontWeight":"bold","align":"center","baseline":"middle"},"encoding":{"x":{"field":"tx","type":"quantitative","scale":{"domain":[405,840],"range":[526,724],"nice":false,"zero":false},"axis":null},"y":{"field":"ty","type":"quantitative","scale":{"domain":[0,111],"range":[626,515],"nice":false,"zero":false},"axis":null},"text":{"field":"t"}}}
],
"resolve":{"scale":{"x":"independent","y":"independent"},"axis":{"x":"independent","y":"independent"}}
}
